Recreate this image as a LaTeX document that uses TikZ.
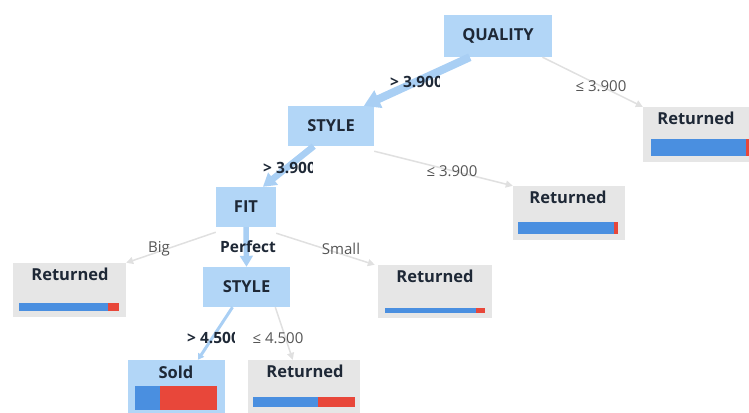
\documentclass[tikz,border=0pt]{standalone}
\usepackage{fontspec}
\setmainfont{Open Sans}
\usetikzlibrary{arrows.meta,calc}

\definecolor{splitbg}{HTML}{B2D6F7}
\definecolor{leafbg}{HTML}{E6E6E6}
\definecolor{barblue}{HTML}{4A8FE0}
\definecolor{barred}{HTML}{E8473A}
\definecolor{mainedge}{HTML}{A9CFF4}
\definecolor{sideedge}{HTML}{E0E0E0}
\definecolor{inktext}{HTML}{1E2836}
\definecolor{greytext}{HTML}{555555}

\tikzset{
  split/.style={rectangle, fill=splitbg, minimum width=#1, minimum height=40pt,
    inner sep=0pt, font=\fontsize{16.5}{16.5}\selectfont\bfseries, text=inktext},
  leafbox/.style={rectangle, fill=leafbg, inner sep=0pt},
  leaftitle/.style={font=\fontsize{16.5}{16.5}\selectfont\bfseries, text=inktext, inner sep=0pt},
  mainflow/.style={draw=mainedge, line width=#1,
    -{Triangle[length=2*#1, width=2.3*#1]}},
  sideflow/.style={draw=sideedge, line width=1.5pt,
    -{Triangle[length=7pt, width=7pt]}},
  boldlabel/.style={font=\fontsize{15.5}{15.5}\selectfont\bfseries, text=inktext, inner sep=0pt},
  thinlabel/.style={font=\fontsize{15}{15}\selectfont, text=greytext, inner sep=0pt},
}

\begin{document}
\begin{tikzpicture}[x=1pt, y=-1pt]
\useasboundingbox (0,0) rectangle (749,412);

% split nodes
\node[split=108pt, minimum height=42pt] (qual) at (498,36) {QUALITY};
\node[split=86pt] (style1) at (331,126) {STYLE};
\node[split=60pt] (fit) at (246,207) {FIT};
\node[split=87pt] (style2) at (246.5,287) {STYLE};

% leaf boxes
\node[leafbox, minimum width=117pt, minimum height=55pt] (r1) at (701.5,134.5) {};
\node[leafbox, minimum width=112pt, minimum height=54pt] (rmid) at (569,213) {};
\node[leafbox, minimum width=114pt, minimum height=53pt] (rsmall) at (435,291.5) {};
\node[leafbox, minimum width=113pt, minimum height=54pt] (rbig) at (69.5,290) {};
\node[rectangle, fill=splitbg, inner sep=0pt, minimum width=97pt, minimum height=60pt] (sold) at (176.5,390) {};
\node[leafbox, minimum width=112pt, minimum height=60pt] (rbot) at (304,390) {};

% leaf titles
\node[leaftitle] (t1) at (696,118) {Returned};
\node[leaftitle] (tmid) at (568,197) {Returned};
\node[leaftitle] (tsmall) at (435,276) {Returned};
\node[leaftitle] (tbig) at (70,274) {Returned};
\node[leaftitle] (tsold) at (176,372) {Sold};
\node[leaftitle] (tbot) at (305,371) {Returned};

% class bars (blue = returned share, red = sold share)
\fill[barblue] (651,139) rectangle (746,156);
\fill[barred] (746,139) rectangle (752,156);
\fill[barblue] (518,222) rectangle (614,234);
\fill[barred] (614,222) rectangle (618,234);
\fill[barblue] (385,308) rectangle (476,313);
\fill[barred] (476,308) rectangle (485,313);
\fill[barblue] (19,303) rectangle (108,311);
\fill[barred] (108,303) rectangle (119,311);
\fill[barblue] (135,386) rectangle (160,410);
\fill[barred] (160,386) rectangle (217,410);
\fill[barblue] (253,397) rectangle (318,407);
\fill[barred] (318,397) rectangle (355,407);

% connectors
\draw[mainflow=8pt] ($(qual.south west)!0.24!(qual.south east)$) -- ($(style1.north west)!0.88!(style1.north east)$);
\draw[sideflow] ($(qual.south west)!0.91!(qual.south east)$) -- (r1.north west);
\draw[mainflow=6.5pt] ($(style1.south west)!0.3!(style1.south east)$) -- ($(fit.north west)!0.78!(fit.north east)$);
\draw[sideflow] ([yshift=-5pt]style1.south east) -- (rmid.north west);
\draw[sideflow] ([yshift=-5pt]fit.south west) -- (rbig.north east);
\draw[mainflow=5.5pt] (fit.south) -- (style2.north);
\draw[sideflow] ([yshift=-6pt]fit.south east) -- ([xshift=-3pt]rsmall.north west);
\draw[mainflow=3pt] ($(style2.south west)!0.34!(style2.south east)$) -- ($(sold.north west)!0.72!(sold.north east)$);
\draw[sideflow] ($(style2.south west)!0.83!(style2.south east)$) -- ($(rbot.north west)!0.4!(rbot.north east)$);

% branch labels; the long ones are cut off at their box edge
\begin{scope}
  \clip (385,70) rectangle (439.5,95);
  \node[boldlabel, anchor=west] (lq1) at (390,82) {> 3.900};
\end{scope}
\node[thinlabel] (lq2) at (601,86) {≤ 3.900};
\begin{scope}
  \clip (258,156) rectangle (312,181);
  \node[boldlabel, anchor=west] (ls1) at (263,168) {> 3.900};
\end{scope}
\node[thinlabel] (ls2) at (452,171) {≤ 3.900};
\node[thinlabel] (lbig) at (159,249) {Big};
\node[boldlabel] (lperf) at (248,247) {Perfect};
\node[thinlabel] (lsmall) at (341,249) {Small};
\begin{scope}
  \clip (182,326) rectangle (234,350);
  \node[boldlabel, anchor=west] (ls3) at (187,338) {> 4.500};
\end{scope}
\node[thinlabel] (ls4) at (278,338) {≤ 4.500};
\end{tikzpicture}
\end{document}
